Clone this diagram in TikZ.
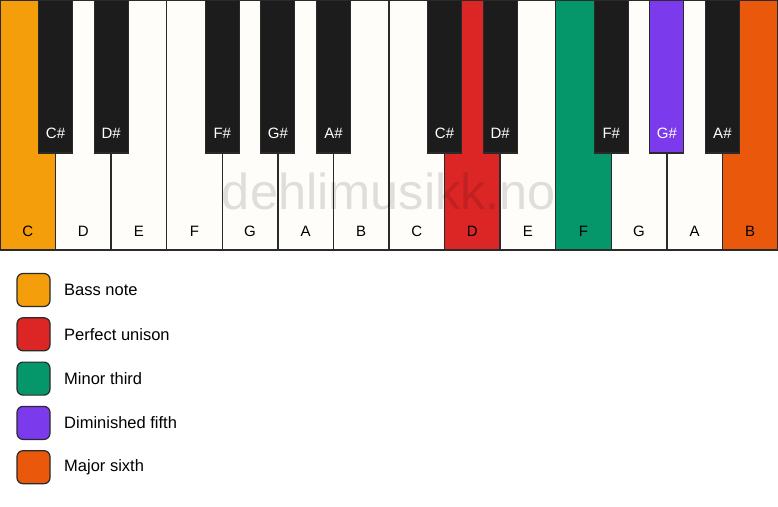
\documentclass[tikz,border=0pt]{standalone}
\usepackage{fontspec}
\setmainfont{Liberation Sans}
\definecolor{ivory}{HTML}{FFFDF9}
\definecolor{keyline}{HTML}{2A2A2A}
\definecolor{ebony}{HTML}{1C1C1C}
\definecolor{bassnote}{HTML}{F59E0B}
\definecolor{unison}{HTML}{DC2626}
\definecolor{minthird}{HTML}{059669}
\definecolor{dimfifth}{HTML}{7C3AED}
\definecolor{majsixth}{HTML}{EA580C}
\tikzset{
  whitekey/.style={draw=keyline,line width=1.3pt},
  blackkey/.style={draw=keyline,line width=1.1pt},
  keylabel/.style={font=\fontsize{15}{15}\selectfont,text=black},
  sharplabel/.style={font=\fontsize{15}{15}\selectfont,text=white},
  swatch/.style={draw=keyline,line width=1.2pt,rounded corners=6pt,minimum size=33pt,inner sep=0pt},
  legendtext/.style={font=\fontsize{16.5}{16.5}\selectfont,anchor=west,inner sep=0pt},
  watermark/.style={font=\fontsize{50.5}{50.5}\selectfont,text=black,text opacity=0.12}
}
\begin{document}
\begin{tikzpicture}[x=1pt,y=-1pt]
\useasboundingbox (0,0) rectangle (778,506);
\fill[white] (0,0) rectangle (778,506);
% white keys
\foreach \i/\n/\c in {0/C/bassnote,1/D/ivory,2/E/ivory,3/F/ivory,4/G/ivory,5/A/ivory,6/B/ivory,
  7/C/ivory,8/D/unison,9/E/ivory,10/F/minthird,11/G/ivory,12/A/ivory,13/B/majsixth}{
  \draw[whitekey,fill=\c] ({55.57*\i},0) rectangle ({55.57*(\i+1)},250);
  \node[keylabel] (w\i) at ({55.57*(\i+0.5)},231) {\n};
}
% black keys
\foreach \i/\n/\c in {1/C/ebony,2/D/ebony,4/F/ebony,5/G/ebony,6/A/ebony,
  8/C/ebony,9/D/ebony,11/F/ebony,12/G/dimfifth,13/A/ebony}{
  \draw[blackkey,fill=\c] ({55.57*\i-17},0) rectangle ({55.57*\i+17},153);
  \node[sharplabel] (b\i) at ({55.57*\i},133) {\n\#};
}
\node[watermark] (mark) at (389,191) {dehlimusikk.no};
% legend
\node[swatch,fill=bassnote] (s1) at (33.5,290) {};
\node[legendtext] (t1) at (64,290) {Bass note};
\node[swatch,fill=unison] (s2) at (33.5,334.3) {};
\node[legendtext] (t2) at (64,334.3) {Perfect unison};
\node[swatch,fill=minthird] (s3) at (33.5,378.6) {};
\node[legendtext] (t3) at (64,378.6) {Minor third};
\node[swatch,fill=dimfifth] (s4) at (33.5,422.9) {};
\node[legendtext] (t4) at (64,422.9) {Diminished fifth};
\node[swatch,fill=majsixth] (s5) at (33.5,467.2) {};
\node[legendtext] (t5) at (64,467.2) {Major sixth};
\end{tikzpicture}
\end{document}
